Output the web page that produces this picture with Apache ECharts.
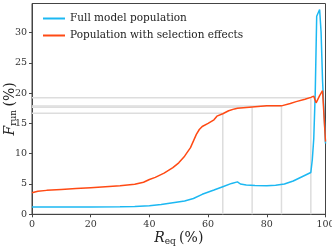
<!DOCTYPE html>
<html><head><meta charset="utf-8">
<script src="https://cdn.jsdelivr.net/npm/echarts@6/dist/echarts.min.js"></script>
<style>html,body{margin:0;padding:0;background:#fff}#c{width:332px;height:249px}</style>
</head><body><div id="c"></div>
<script>
var fullR = [0,10,20,30,35,40,44,48,52,55,58,62,65,68,70,71,73,76,80,83,86,89,92,95,95.5,96,96.5,97,98,98.5,99,100];
var fullV = [1.2,1.2,1.2,1.25,1.3,1.4,1.6,1.9,2.2,2.6,3.3,4.0,4.55,5.1,5.35,5.0,4.85,4.75,4.7,4.8,5.0,5.5,6.2,6.9,9.0,12.5,20,32.7,33.8,30,22,11.7];
var selR = [0,2,5,10,15,20,25,30,35,38,40,42,45,48,50,52,54,56,57,58,60,62,63,65,67,69,70,75,80,85,88,90,93,95,96,96.8,98,99,100];
var selV = [3.55,3.8,3.95,4.1,4.25,4.4,4.55,4.7,4.95,5.3,5.75,6.1,6.8,7.7,8.5,9.6,11,13.2,14.0,14.5,15.0,15.6,16.2,16.6,17.1,17.4,17.5,17.7,17.9,17.9,18.3,18.6,19.0,19.3,19.5,18.4,19.6,20.4,12];
var thrR = [65,75,85,95];
var thrV = [16.7,17.66,17.87,19.24];
var xTicks = [0,20,40,60,80,100];

var ser = [];
for (var i = 0; i < thrR.length; i++) {
  ser.push({type:'line', data:[[0,thrV[i]],[thrR[i],thrV[i]]], symbol:'none', silent:true, z:1,
    lineStyle:{color:'#dddddd', width:1.5}});
  ser.push({type:'line', data:[[thrR[i],0],[thrR[i],thrV[i]]], symbol:'none', silent:true, z:1,
    lineStyle:{color:'#dddddd', width:1.5}});
}
ser.push({name:'Full model population', type:'line', symbol:'none', z:3,
  data: fullR.map(function(r,k){return [r, fullV[k]];}), lineStyle:{color:'#1cb8f2', width:1.5}, itemStyle:{color:'#1cb8f2'}});
ser.push({name:'Population with selection effects', type:'line', symbol:'none', z:3,
  data: selR.map(function(r,k){return [r, selV[k]];}), lineStyle:{color:'#ff4a14', width:1.5}, itemStyle:{color:'#ff4a14'}});

var serif = 'DejaVu Serif';
var rich = {i:{fontFamily:serif, fontStyle:'italic', fontSize:14, color:'#222'},
      s:{fontFamily:serif, fontSize:9, color:'#222', verticalAlign:'bottom', padding:[6,0,0,0]},
      n:{fontFamily:serif, fontSize:14, color:'#222'}};
var chart = echarts.init(document.getElementById('c'), null, {renderer:'canvas'});
chart.setOption({
  animation:false,
  grid:{left:32, right:6.5, top:3.5, bottom:34.7, show:true, borderColor:'#444', borderWidth:1,
    containLabel:false, outerBoundsMode:'none'},
  legend:{show:true, left:38, top:8, orient:'vertical', itemWidth:22, itemHeight:2, itemGap:6,
    icon:'rect', data:['Full model population','Population with selection effects'],
    textStyle:{fontFamily:serif, fontSize:10.5, color:'#222'}},
  xAxis:{type:'value', min:0, max:100, interval:20,
    axisLine:{lineStyle:{color:'#444'}}, axisTick:{length:3, lineStyle:{color:'#444'}},
    splitLine:{show:false},
    axisLabel:{fontFamily:serif, fontSize:9.5, color:'#333', margin:5,
      formatter:function(v){return xTicks.indexOf(v)>=0 ? String(v) : '';}},
    name:'{i|R}{s|eq} {n|(%)}', nameLocation:'middle', nameGap:17, nameMoveOverlap:false,
    nameTextStyle:{rich:rich}},
  yAxis:{type:'value', min:0, max:34.8, interval:5,
    axisLine:{lineStyle:{color:'#444'}}, axisTick:{length:3, lineStyle:{color:'#444'}},
    splitLine:{show:false},
    axisLabel:{fontFamily:serif, fontSize:9.5, color:'#333', margin:5, showMaxLabel:false},
    name:'{i|F}{s|run} {n|(%)}', nameLocation:'middle', nameGap:14, nameRotate:90, nameMoveOverlap:false,
    nameTextStyle:{rich:rich}},
  series: ser
});
</script></body></html>
